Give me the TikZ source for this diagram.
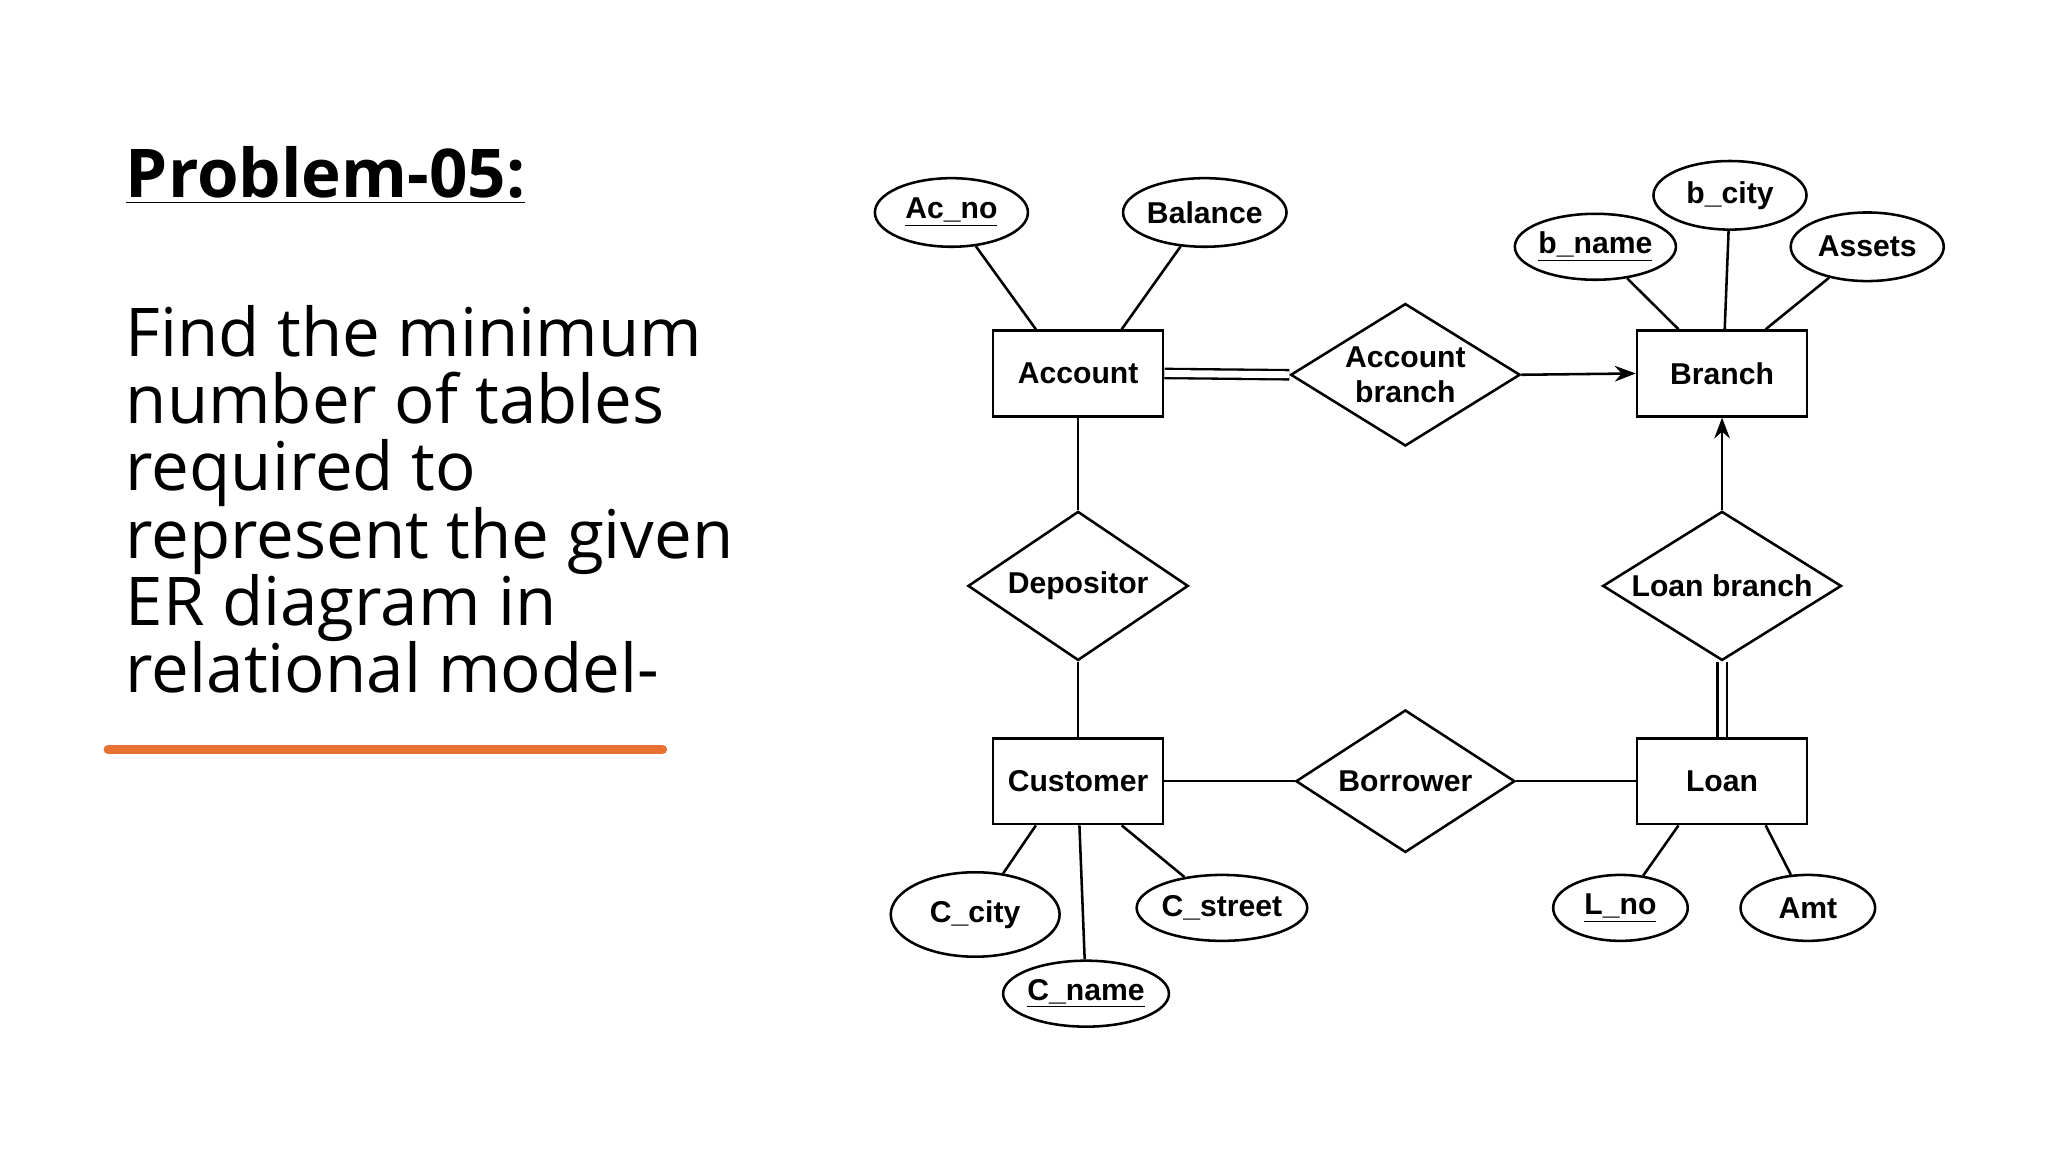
\documentclass[tikz,border=0pt]{standalone}
\usepackage{fontspec}
\setmainfont{Liberation Sans}
\newfontfamily\txtfont{Open Sans}
\usetikzlibrary{shapes.geometric,arrows.meta,calc}
\begin{document}
\begin{tikzpicture}[x=0.02cm,y=-0.02cm,
  ent/.style={draw,line width=1.1pt,minimum width=2.58cm,minimum height=1.3cm,font=\fontsize{13}{15}\selectfont\bfseries},
  rel/.style={draw,line width=1.1pt,diamond,aspect=1.55,inner sep=0pt,font=\fontsize{13}{15}\selectfont\bfseries,align=center},
  att/.style={draw,line width=1.1pt,ellipse,minimum width=2.32cm,minimum height=1.04cm,inner sep=0pt,font=\fontsize{13}{15}\selectfont\bfseries},
  ln/.style={line width=1.1pt},
  dbl/.style={double,double distance=3pt,line width=1pt},
  arr/.style={line width=1.1pt,-{Stealth[length=9pt]}},
  txt/.style={anchor=base west,inner sep=0pt,font=\txtfont\fontsize{29}{29}\selectfont}]
\useasboundingbox (0,0) rectangle (1552,873);
\fill[white] (0,0) rectangle (1552,873);
% left text
\node[txt,font=\txtfont\bfseries\fontsize{29}{29}\selectfont] (title) at (95,150) {\underline{Problem-05:}};
\node[txt] (l1) at (95,270) {Find the minimum};
\node[txt] (l2) at (95,321) {number of tables};
\node[txt] (l3) at (95,372) {required to};
\node[txt] (l4) at (95,423) {represent the given};
\node[txt] (l5) at (95,474) {ER diagram in};
\node[txt] (l6) at (95,525) {relational model-};
\coordinate (u1) at (82,568); \coordinate (u2) at (502,568);
\draw[line width=4pt,line cap=round,color={rgb,255:red,232;green,112;blue,48}] (u1) -- (u2);
% entities
\node[ent] (acc) at (817,283) {Account};
\node[ent] (br) at (1305,283) {Branch};
\node[ent] (cus) at (817,592) {Customer};
\node[ent] (loan) at (1305,592) {Loan};
% relations
\node[rel,minimum width=3.48cm,minimum height=2.16cm] (ab) at (1065,284) {Account\\branch};
\node[rel,minimum width=3.34cm,minimum height=2.26cm] (dep) at (817,444) {Depositor};
\node[rel,minimum width=3.62cm,minimum height=2.26cm] (lb) at (1305,444) {Loan branch};
\node[rel,minimum width=3.32cm,minimum height=2.16cm] (bor) at (1065,592) {Borrower};
% attributes
\node[att] (acno) at (721,161) {\underline{Ac\_no}};
\node[att] (bal) at (913,161) {Balance};
\node[att,minimum height=1cm] (bname) at (1209,187) {\underline{b\_name}};
\node[att] (bcity) at (1311,148) {b\_city};
\node[att] (assets) at (1415,187) {Assets};
\node[att,minimum width=2.56cm,minimum height=1.28cm] (ccity) at (739,693) {C\_city};
\node[att,minimum height=1cm] (cstreet) at (926,688) {C\_street};
\node[att,minimum height=1cm] (cname) at (823,753) {\underline{C\_name}};
\node[att,minimum width=2.04cm,minimum height=1cm] (lno) at (1228,688) {\underline{L\_no}};
\node[att,minimum width=2.04cm,minimum height=1cm] (amt) at (1370,688) {Amt};
% connectors
\draw[ln] (acno) -- ($(acc.north)+(-32,0)$);
\draw[ln] (bal) -- ($(acc.north)+(33,0)$);
\draw[ln] (bname) -- ($(br.north)+(-33,0)$);
\draw[ln] (bcity) -- ($(br.north)+(2,0)$);
\draw[ln] (assets) -- ($(br.north)+(33,0)$);
\draw[ln] (ccity) -- ($(cus.south)+(-32,0)$);
\draw[ln] (cname) -- ($(cus.south)+(1,0)$);
\draw[ln] (cstreet) -- ($(cus.south)+(33,0)$);
\draw[ln] (lno) -- ($(loan.south)+(-33,0)$);
\draw[ln] (amt) -- ($(loan.south)+(33,0)$);
\draw[dbl] (acc.east) -- (ab.west);
\draw[arr] (ab.east) -- (br.west);
\draw[ln] (acc.south) -- (dep.north);
\draw[ln] (dep.south) -- (cus.north);
\draw[arr] (lb.north) -- (br.south);
\draw[dbl] (lb.south) -- (loan.north);
\draw[ln] (cus.east) -- (bor.west);
\draw[ln] (bor.east) -- (loan.west);
\end{tikzpicture}
\end{document}
